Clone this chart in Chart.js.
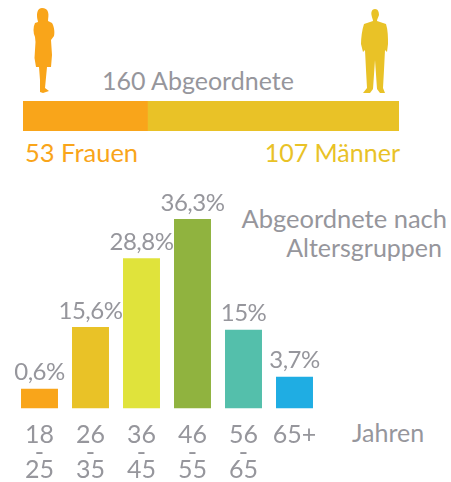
<!DOCTYPE html>
<html>
<head>
<meta charset="utf-8">
<script src="https://cdn.jsdelivr.net/npm/chart.js@4"></script>
<style>
	html, body { margin: 0; padding: 0; background: #fff; }
	body { width: 451px; height: 482px; position: relative; overflow: hidden; }
	#genderBox { position: absolute; left: 23px; top: 101px; width: 376px; height: 30px; }
	#ageBox { position: absolute; left: 0; top: 180px; width: 451px; height: 309px; }
	svg { position: absolute; left: 0; top: 0; }
	svg text { font-family: Lato, sans-serif; font-weight: 400; font-size: 25px; fill: #96969c; }
</style>
</head>
<body>
<svg width="451" height="482">
	<!-- woman -->
	<path fill="#F9A51A" d="M42 8C38 8 37 12 37 16C37 19 38 21 38 22L35 23C33 27 33 33 35 37L35.5 42L34.5 58L36 67L39 67L40 80L40 92L43 93L49 91L45 88L47 67L51 67L52 55L51 40L54 36C55 32 54 26 52 23L48 21C48 18 49 15 48 12C47 9 45 8 42 8Z"/>
	<!-- man -->
	<path fill="#E9C227" d="M375 9C372 9 371 12 371.5 15C372 18 373 19 373 21L364 24C362 30 361 38 361 44L363 52L365 50L366 70L367 88L363 93L370 93L373 89L375 60L377 89L380 93L385 93L383 88L384 70L385 50L387 52L388 44C388 38 388 30 386 24L377 21C377 19 378 18 379 15C379 12 378 9 375 9Z"/>
	<text x="102" y="90">160 Abgeordnete</text>
	<text x="25" y="161.5" style="fill:#F9A51A;font-size:25.5px">53 Frauen</text>
	<text x="400" y="161.5" text-anchor="end" style="fill:#E9C227">107 Männer</text>
	<text x="447" y="228" text-anchor="end" style="font-size:25.5px">Abgeordnete nach</text>
	<text x="442" y="257" text-anchor="end">Altersgruppen</text>
	<text x="352" y="441.5">Jahren</text>
</svg>
<div id="genderBox"><canvas id="genderChart"></canvas></div>
<div id="ageBox"><canvas id="ageChart"></canvas></div>
<script>
var genderLabels = ['Frauen', 'Männer'];
var genderValues = [53, 107];
var genderColors = ['#F9A51A', '#E9C227'];

var ageGroups = [['18', '-', '25'], ['26', '-', '35'], ['36', '-', '45'], ['46', '-', '55'], ['56', '-', '65'], '65+'];
var ageLabels = ['0,6%', '15,6%', '28,8%', '36,3%', '15%', '3,7%'];
// the 0,6% and 3,7% bars are drawn taller than their labels in the original, so heights are read separately
var ageHeights = [3.8, 15.6, 28.8, 36.3, 15.1, 6.1];
var ageColors = ['#F9A51A', '#E9C227', '#E0E33B', '#90B33F', '#54BFAB', '#1FADE3'];

var textFont = { family: 'Lato, sans-serif', weight: '400', size: 25 };

new Chart(document.getElementById('genderChart'), {
	type: 'bar',
	data: {
		labels: ['Abgeordnete'],
		datasets: genderValues.map(function(v, i) {
			return { label: genderLabels[i], data: [v], backgroundColor: genderColors[i], barPercentage: 1, categoryPercentage: 1 };
		})
	},
	options: {
		indexAxis: 'y',
		responsive: true,
		maintainAspectRatio: false,
		animation: false,
		plugins: { legend: { display: false }, tooltip: { enabled: false } },
		scales: {
			x: { stacked: true, min: 0, max: 160, display: false },
			y: { stacked: true, display: false }
		}
	}
});

var barLabelPlugin = {
	id: 'barLabels',
	afterDatasetsDraw: function(chart) {
		var ctx = chart.ctx;
		ctx.save();
		ctx.font = '400 24px Lato, sans-serif';
		ctx.letterSpacing = '-0.5px';
		ctx.fillStyle = '#96969c';
		ctx.textAlign = 'center';
		ctx.textBaseline = 'alphabetic';
		chart.getDatasetMeta(0).data.forEach(function(bar, i) {
			ctx.fillText(ageLabels[i], bar.x, bar.y - 8.5);
		});
		ctx.restore();
	}
};

new Chart(document.getElementById('ageChart'), {
	type: 'bar',
	data: {
		labels: ageGroups,
		datasets: [{
			data: ageHeights,
			backgroundColor: ageColors,
			barPercentage: 0.725,
			categoryPercentage: 1
		}]
	},
	options: {
		responsive: true,
		maintainAspectRatio: false,
		animation: false,
		layout: { padding: { left: 14, right: 131, top: 39, bottom: 0 } },
		plugins: { legend: { display: false }, tooltip: { enabled: false } },
		scales: {
			x: {
				grid: { display: false },
				border: { display: false },
				ticks: { color: '#96969c', font: Object.assign({ lineHeight: '17.5px' }, textFont), padding: 10, maxRotation: 0, autoSkip: false }
			},
			y: { display: false, min: 0, max: 36.3 }
		}
	},
	plugins: [barLabelPlugin]
});
</script>
</body>
</html>
